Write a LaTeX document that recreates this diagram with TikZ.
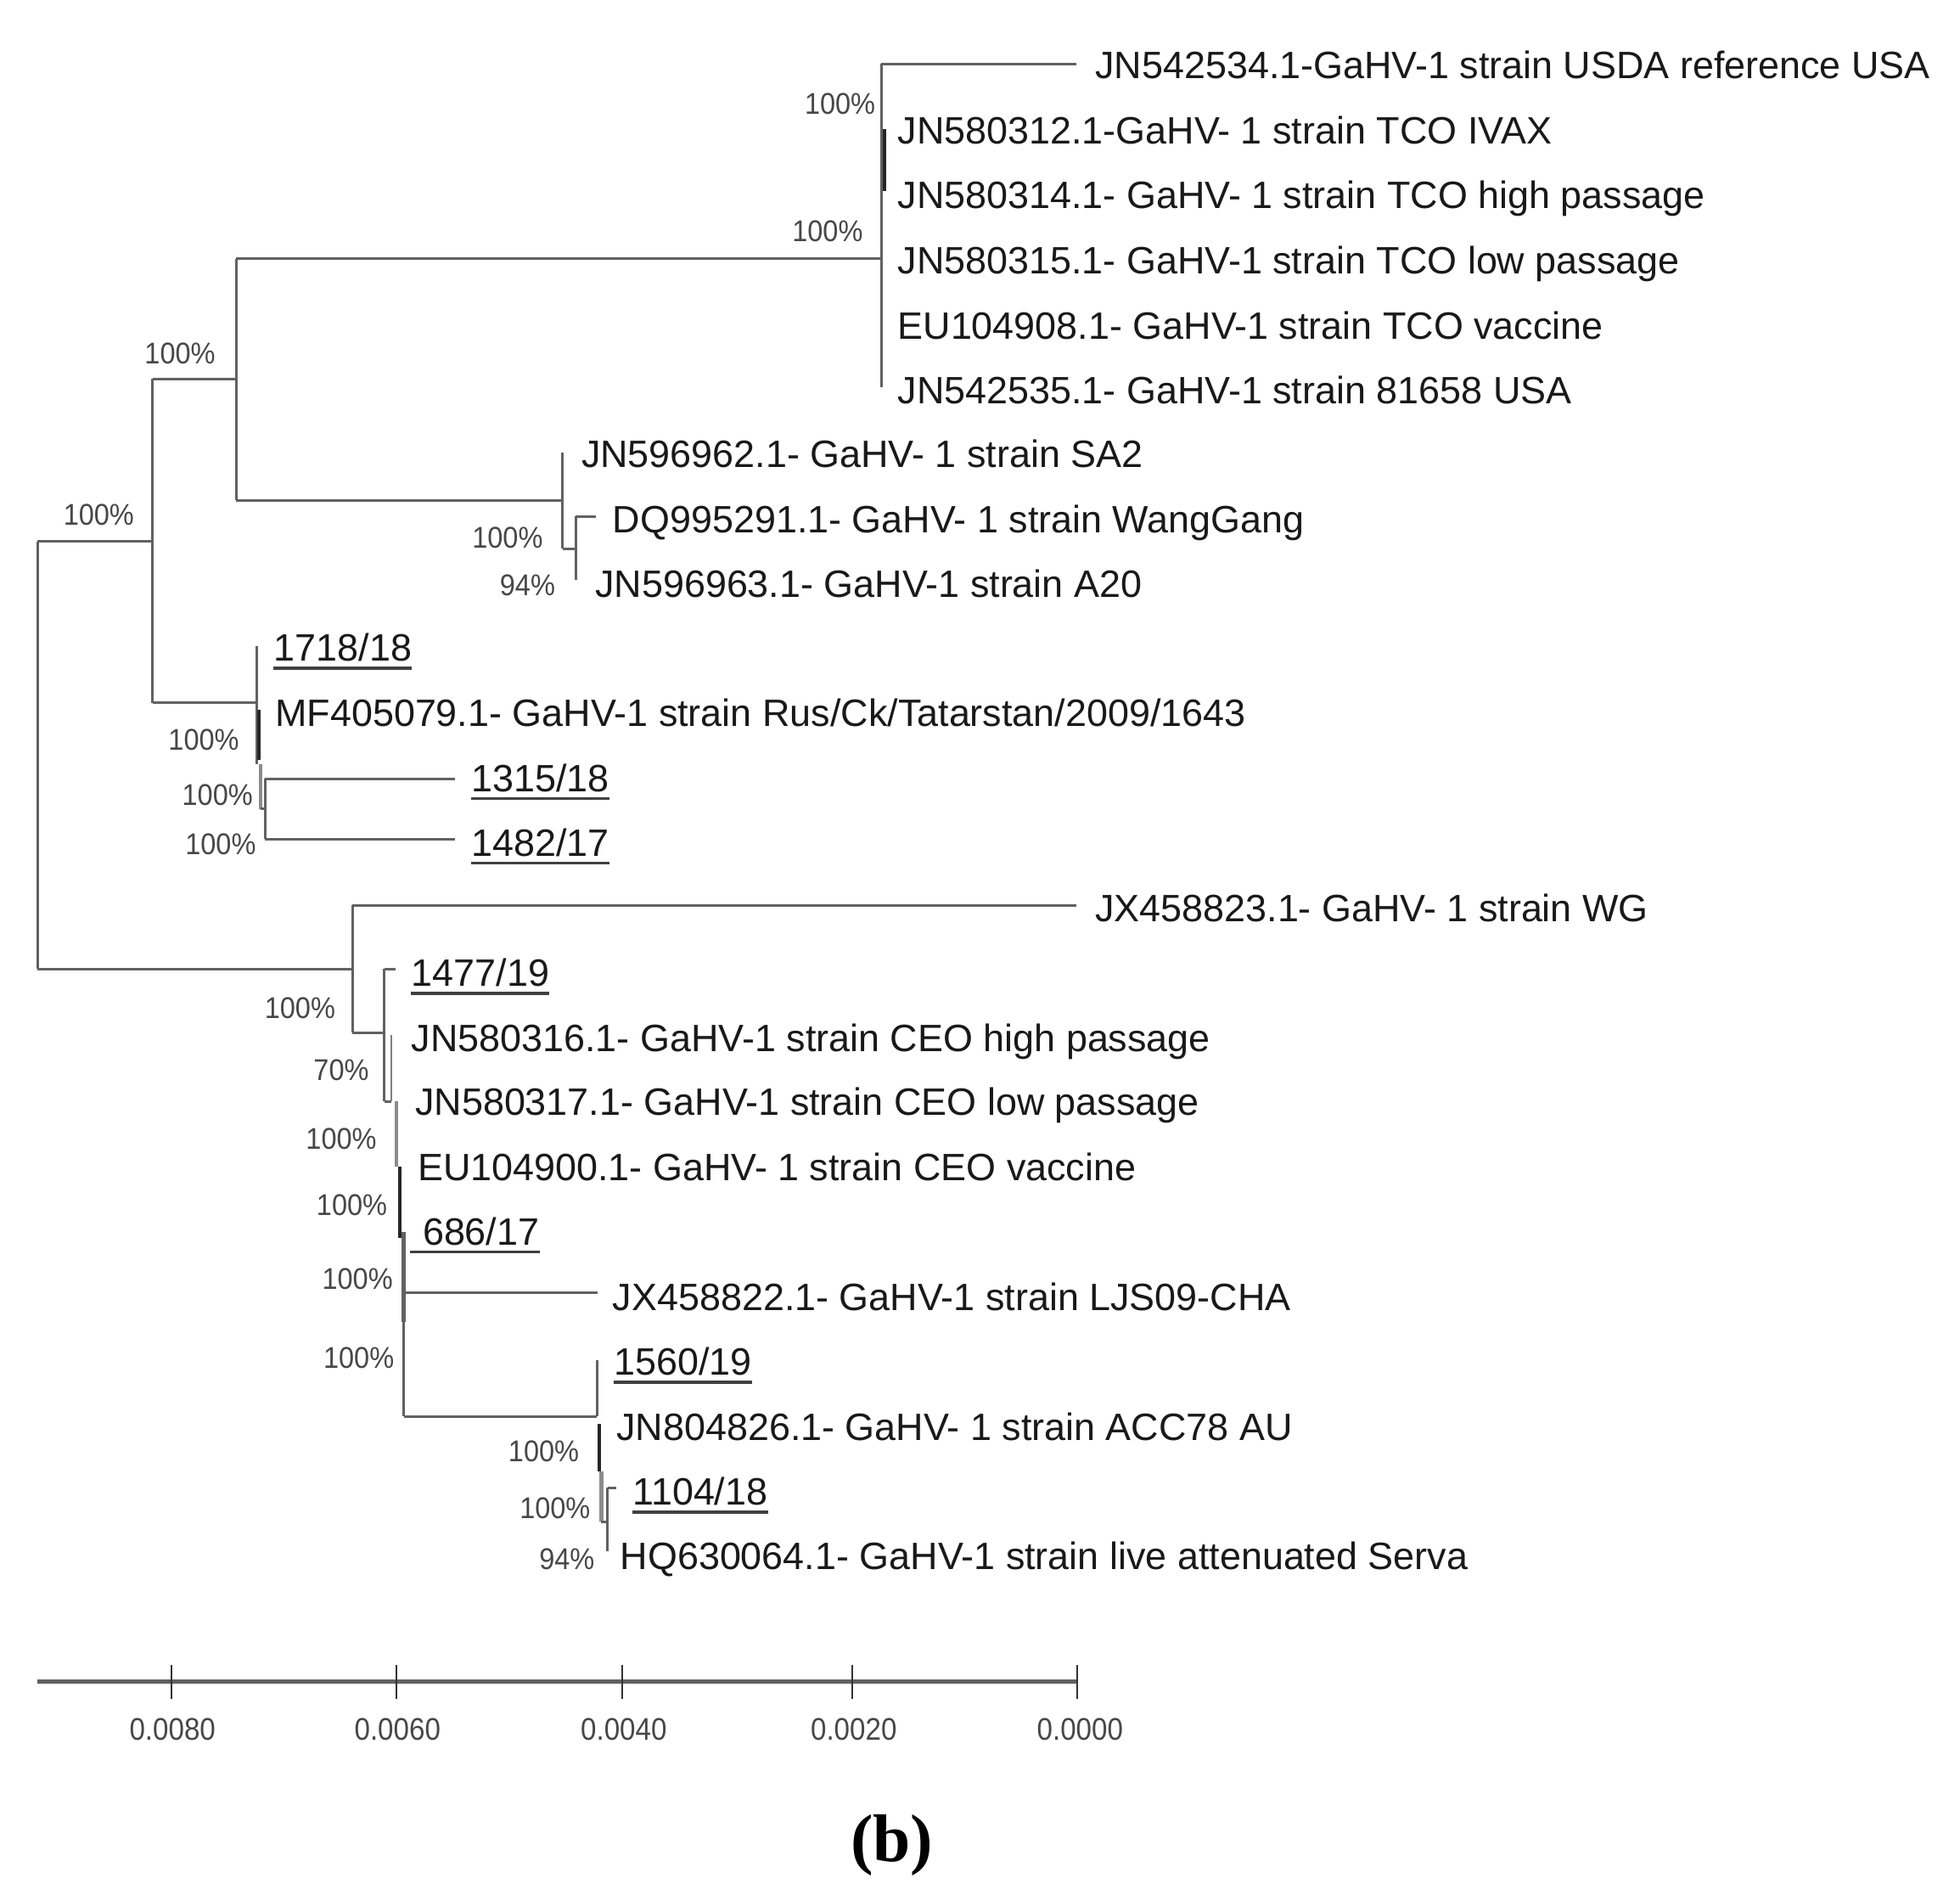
\documentclass[tikz,border=0pt]{standalone}
\usepackage{fontspec}
\setmainfont{Liberation Sans}
\newfontfamily\bsfont[FakeStretch=0.92]{Liberation Sans}
\newfontfamily\sbfont[FakeStretch=0.9]{Liberation Sans}
\newfontfamily\pnfont{Liberation Serif}
\begin{document}
\begin{tikzpicture}[x=1pt,y=-1pt,
  br/.style={draw=black!62,line width=2pt},
  brd/.style={draw=black!85,line width=2.6pt},
  brg/.style={draw=black!45,line width=3pt},
  brl/.style={draw=black!50,line width=1.2pt},
  brt/.style={draw=black!62,line width=3pt},
  taxon/.style={anchor=base west,inner sep=0pt,text=black!90,font=\fontsize{30.5}{36}\selectfont},
  boot/.style={anchor=center,inner sep=0pt,text=black!72,font=\bsfont\fontsize{24}{28}\selectfont},
  sclab/.style={anchor=center,inner sep=0pt,text=black!72,font=\sbfont\fontsize{25}{30}\selectfont},
  ul/.style={draw=black!75,line width=2.2pt},
  sbar/.style={draw=black!62,line width=3pt},
  stick/.style={draw=black!80,line width=1.2pt}]
\useasboundingbox[fill=white] (0,0) rectangle (1568,1511);

% ---------- internal nodes ----------
\coordinate (R) at (30,604);
\coordinate (A) at (122,433);
\coordinate (B) at (189,303);
\coordinate (C) at (705,207);
\coordinate (D) at (450,400);
\coordinate (E) at (460.5,439);
\coordinate (F) at (205.5,562);
\coordinate (G) at (208.5,611);
\coordinate (H) at (212,647);
\coordinate (I) at (282,775);
\coordinate (J) at (307.6,826);
\coordinate (K1) at (313,881);
\coordinate (K2) at (317,881);
\coordinate (K3) at (320,933);
\coordinate (k3e) at (320,990);
\coordinate (K4) at (323,985);
\coordinate (k4m) at (323,1057);
\coordinate (K) at (477.5,1133);
\coordinate (L1) at (479.5,1139);
\coordinate (L2) at (481,1177);
\coordinate (L3) at (486,1217);
\coordinate (c2) at (707.5,103);
\coordinate (c3) at (707.5,153);
\coordinate (f1) at (207,568);
\coordinate (f2) at (207,608);

% ---------- tips ----------
\coordinate (t1) at (861,51);
\coordinate (t6) at (705,310);
\coordinate (t7) at (450,362);
\coordinate (t8) at (476.6,413);
\coordinate (t9) at (460.5,464);
\coordinate (t10) at (205.5,517);
\coordinate (t12) at (364,623);
\coordinate (t13) at (364,671);
\coordinate (t14) at (861,724);
\coordinate (t15) at (316.5,775);
\coordinate (t16) at (313,828);
\coordinate (t20) at (478,1034);
\coordinate (t21) at (477.5,1088);
\coordinate (t23) at (493,1190);
\coordinate (t24) at (486,1241);

% ---------- branches ----------
\draw[br] (R|-A) -- (R|-I);
\draw[br] (R|-A) -- (A);
\draw[br] (R|-I) -- (I);
\draw[br] (A|-B) -- (A|-F);
\draw[br] (A|-B) -- (B);
\draw[br] (A|-F) -- (F);
\draw[br] (B|-C) -- (B|-D);
\draw[br] (B|-C) -- (C);
\draw[br] (B|-D) -- (D);
\draw[br] (C|-t1) -- (t6);
\draw[br] (C|-t1) -- (t1);
\draw[brd] (c2) -- (c3);
\draw[br] (t7) -- (D|-E);
\draw[br] (D|-E) -- (E);
\draw[br] (E|-t8) -- (t9);
\draw[br] (E|-t8) -- (t8);
\draw[br] (t10) -- (F|-G);
\draw[brd] (f1) -- (f2);
\draw[brg] (G) -- (G|-H);
\draw[br] (G|-H) -- (H);
\draw[br] (H|-t12) -- (H|-t13);
\draw[br] (H|-t12) -- (t12);
\draw[br] (H|-t13) -- (t13);
\draw[br] (I|-t14) -- (I|-J);
\draw[br] (I|-t14) -- (t14);
\draw[br] (I|-J) -- (J);
\draw[br] (J|-t15) -- (J|-K1);
\draw[br] (J|-t15) -- (t15);
\draw[br] (J|-K1) -- (K1);
\draw[brl] (t16) -- (K1);
\draw[brg] (K2) -- (K2|-K3);
\draw[brd] (K3) -- (k3e);
\draw[brt] (K4) -- (k4m);
\draw[br] (k4m) -- (K4|-K);
\draw[br] (K4|-t20) -- (t20);
\draw[br] (K4|-K) -- (K);
\draw[br] (t21) -- (K);
\draw[brd] (L1) -- (L1|-L2);
\draw[brg] (L2) -- (L2|-L3);
\draw[br] (L2|-L3) -- (L3);
\draw[br] (L3|-t23) -- (t24);
\draw[br] (L3|-t23) -- (t23);

% ---------- taxon labels ----------
\node[taxon] (n1) at (876,63) {JN542534.1-GaHV-1 strain USDA reference USA};
\node[taxon] (n2) at (718,115) {JN580312.1-GaHV- 1 strain TCO IVAX};
\node[taxon] (n3) at (718,167) {JN580314.1- GaHV- 1 strain TCO high passage};
\node[taxon] (n4) at (718,219) {JN580315.1- GaHV-1 strain TCO low passage};
\node[taxon] (n5) at (718,271) {EU104908.1- GaHV-1 strain TCO vaccine};
\node[taxon] (n6) at (718,323) {JN542535.1- GaHV-1 strain 81658 USA};
\node[taxon] (n7) at (465,374) {JN596962.1- GaHV- 1 strain SA2};
\node[taxon] (n8) at (490,426) {DQ995291.1- GaHV- 1 strain WangGang};
\node[taxon] (n9) at (476,478) {JN596963.1- GaHV-1 strain A20};
\node[taxon] (n10) at (219,529) {1718/18};
\node[taxon] (n11) at (220,581) {MF405079.1- GaHV-1 strain Rus/Ck/Tatarstan/2009/1643};
\node[taxon] (n12) at (377,633) {1315/18};
\node[taxon] (n13) at (377,685) {1482/17};
\node[taxon] (n14) at (876,737) {JX458823.1- GaHV- 1 strain WG};
\node[taxon] (n15) at (329,789) {1477/19};
\node[taxon] (n16) at (329,841) {JN580316.1- GaHV-1 strain CEO high passage};
\node[taxon] (n17) at (332,892) {JN580317.1- GaHV-1 strain CEO low passage};
\node[taxon] (n18) at (334,944) {EU104900.1- GaHV- 1 strain CEO vaccine};
\node[taxon] (n19) at (338,996) {686/17};
\node[taxon] (n20) at (490,1048) {JX458822.1- GaHV-1 strain LJS09-CHA};
\node[taxon] (n21) at (491,1100) {1560/19};
\node[taxon] (n22) at (493,1152) {JN804826.1- GaHV- 1 strain ACC78 AU};
\node[taxon] (n23) at (506,1204) {1104/18};
\node[taxon] (n24) at (496,1255) {HQ630064.1- GaHV-1 strain live attenuated Serva};

% underlines
\foreach \n in {n10,n12,n13,n15,n21,n23}
  \draw[ul] ([yshift=-5.5pt]\n.base west) -- ([yshift=-5.5pt]\n.base east);
\draw[ul] ([xshift=-10pt,yshift=-5.5pt]n19.base west) -- ([yshift=-5.5pt]n19.base east);

% ---------- bootstrap values ----------
\node[boot] (b1) at (672,83) {100\%};
\node[boot] (b2) at (662,185) {100\%};
\node[boot] (b3) at (144,283) {100\%};
\node[boot] (b4) at (79,412) {100\%};
\node[boot] (b5) at (406,430) {100\%};
\node[boot] (b6) at (422,468) {94\%};
\node[boot] (b7) at (163,592) {100\%};
\node[boot] (b8) at (174,636) {100\%};
\node[boot] (b9) at (176.5,675) {100\%};
\node[boot] (b10) at (240,806) {100\%};
\node[boot] (b11) at (273,856) {70\%};
\node[boot] (b12) at (273,911) {100\%};
\node[boot] (b13) at (281.5,964) {100\%};
\node[boot] (b14) at (286,1023) {100\%};
\node[boot] (b15) at (287,1086) {100\%};
\node[boot] (b16) at (435,1161) {100\%};
\node[boot] (b17) at (444,1206) {100\%};
\node[boot] (b18) at (453.5,1247) {94\%};

% ---------- scale bar ----------
\coordinate (s0) at (30,1345);
\coordinate (s1) at (137,1345);
\coordinate (s2) at (317,1345);
\coordinate (s3) at (498,1345);
\coordinate (s4) at (682,1345);
\coordinate (s5) at (862,1345);
\draw[sbar] (s0) -- (s5);
\foreach \s in {s1,s2,s3,s4,s5}
  \draw[stick] ([yshift=13pt]\s) -- ([yshift=-14pt]\s);
\node[sclab] (l1) at (138,1383) {0.0080};
\node[sclab] (l2) at (318,1383) {0.0060};
\node[sclab] (l3) at (499,1383) {0.0040};
\node[sclab] (l4) at (683,1383) {0.0020};
\node[sclab] (l5) at (864,1383) {0.0000};

% ---------- panel label ----------
\node[anchor=base,inner sep=0pt,font=\pnfont\bfseries\fontsize{54}{60}\selectfont] (panel) at (713.5,1489) {(b)};
\end{tikzpicture}
\end{document}
